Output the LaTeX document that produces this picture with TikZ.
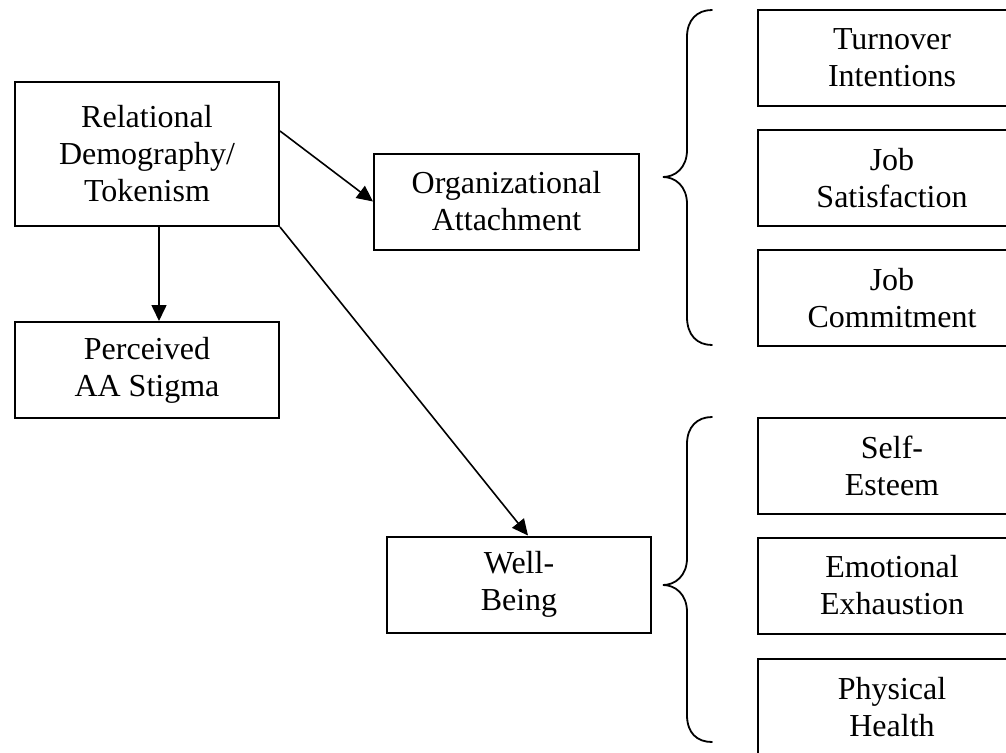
\documentclass[tikz,border=0pt]{standalone}
\usepackage{fontspec}
\setmainfont{Liberation Serif}
\usetikzlibrary{arrows.meta}
\begin{document}
\begin{tikzpicture}[x=1pt,y=-1pt,
  box/.style={draw=black, line width=2pt, align=center, inner sep=0pt,
    font=\fontsize{32}{37}\selectfont, minimum height=96pt},
  lbox/.style={box, minimum width=264pt},
  rbox/.style={box, minimum width=268pt},
  arr/.style={line width=1.6pt, -{Triangle[length=16pt,width=15pt]}},
  brace/.style={line width=1.8pt, line cap=round}]
\useasboundingbox (0,0) rectangle (1006,752);
\clip (0,0) rectangle (1006,752);
% left column
\node[lbox, minimum height=144pt] (rel) at (147,154) {Relational\\Demography/\\Tokenism};
\node[lbox] (perc) at (147,370) {Perceived\\AA Stigma};
% middle column
\node[box, minimum width=265pt] (org) at (506.5,201.5) {Organizational\\Attachment};
\node[lbox] (well) at (519,584.5) {Well-\\Being};
% right column
\node[rbox] (turn) at (892,58) {Turnover\\Intentions};
\node[rbox] (sat) at (892,178) {Job\\Satisfaction};
\node[rbox] (com) at (892,298) {Job\\Commitment};
\node[rbox] (self) at (892,466) {Self-\\Esteem};
\node[rbox] (emo) at (892,585.5) {Emotional\\Exhaustion};
\node[rbox] (phys) at (892,707) {Physical\\Health};
% connectors
\draw[arr] ([yshift=23pt]rel.east) -- (org.west);
\draw[arr] (rel.south east) -- ([xshift=9pt]well.north);
\draw[arr] ([xshift=12pt]rel.south) -- ([xshift=12pt]perc.north);
% braces
\draw[brace] (712,10) .. controls (697,10) and (687,20) .. (687,37) -- (687,150)
  .. controls (687,168) and (675,177) .. (663,177)
  .. controls (675,177) and (687,186) .. (687,204) -- (687,317)
  .. controls (687,335) and (697,345) .. (712,345);
\draw[brace] (712,417) .. controls (697,417) and (687,427) .. (687,444) -- (687,558)
  .. controls (687,576) and (675,585) .. (663,585)
  .. controls (675,585) and (687,594) .. (687,612) -- (687,715)
  .. controls (687,733) and (697,742) .. (712,742);
\end{tikzpicture}
\end{document}
